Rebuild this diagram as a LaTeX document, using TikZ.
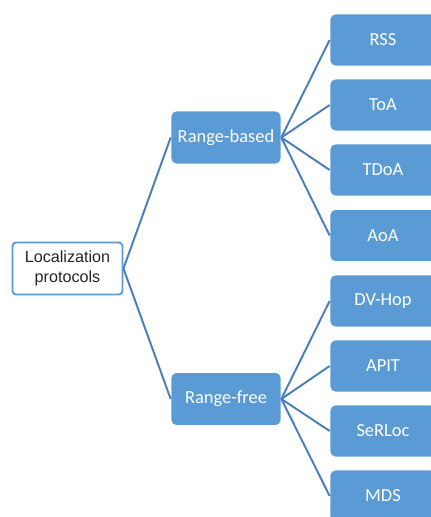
\documentclass[tikz,border=0pt]{standalone}
\usepackage{fontspec}
\setmainfont{Liberation Sans}
\newfontfamily\calibri{Carlito}
\definecolor{boxblue}{HTML}{5B9BD5}
\definecolor{lineblue}{HTML}{4A7EBB}

\begin{document}
\begin{tikzpicture}[x=0.02cm, y=-0.02cm,
    root/.style={rectangle, rounded corners=2pt, minimum width=2.2cm, minimum height=1.04cm, align=center, draw=boxblue, line width=1.1pt, fill=white, text=black!85, font=\fontsize{9.2}{11.3}\selectfont},
    group/.style={rectangle, rounded corners=3pt, minimum width=2.2cm, minimum height=1.06cm, draw=white, fill=boxblue, text=white, font=\calibri\fontsize{10.5}{12}\selectfont},
    leaf/.style={group, minimum width=2.12cm, minimum height=1.04cm},
    link/.style={lineblue, line width=1.1pt}
]

% frame of the picture
\clip (0,0) rectangle (431,517);

% ROOT
\node[root] (root) at (67.5,268.5) {Localization\\protocols};

% Two families
\node[group] (based) at (226,137.5) {Range-based};
\node[group] (free) at (226,399) {Range-free};

% Range-based protocols
\node[leaf] (rss) at (383,40) {RSS};
\node[leaf] (toa) at (383,105) {ToA};
\node[leaf] (tdoa) at (383,170) {TDoA};
\node[leaf] (aoa) at (383,235.5) {AoA};

% Range-free protocols
\node[leaf] (dvhop) at (383,301) {DV-Hop};
\node[leaf] (apit) at (383,366) {APIT};
\node[leaf] (serloc) at (383,431) {SeRLoc};
\node[leaf] (mds) at (383,496) {MDS};

% Connectors from the root
\draw[link] (root.east) -- (based.west);
\draw[link] (root.east) -- (free.west);

% Connectors to the leaves
\draw[link] (based.east) -- (rss.west);
\draw[link] (based.east) -- (toa.west);
\draw[link] (based.east) -- (tdoa.west);
\draw[link] (based.east) -- (aoa.west);

\draw[link] (free.east) -- (dvhop.west);
\draw[link] (free.east) -- (apit.west);
\draw[link] (free.east) -- (serloc.west);
\draw[link] (free.east) -- (mds.west);

\end{tikzpicture}
\end{document}
